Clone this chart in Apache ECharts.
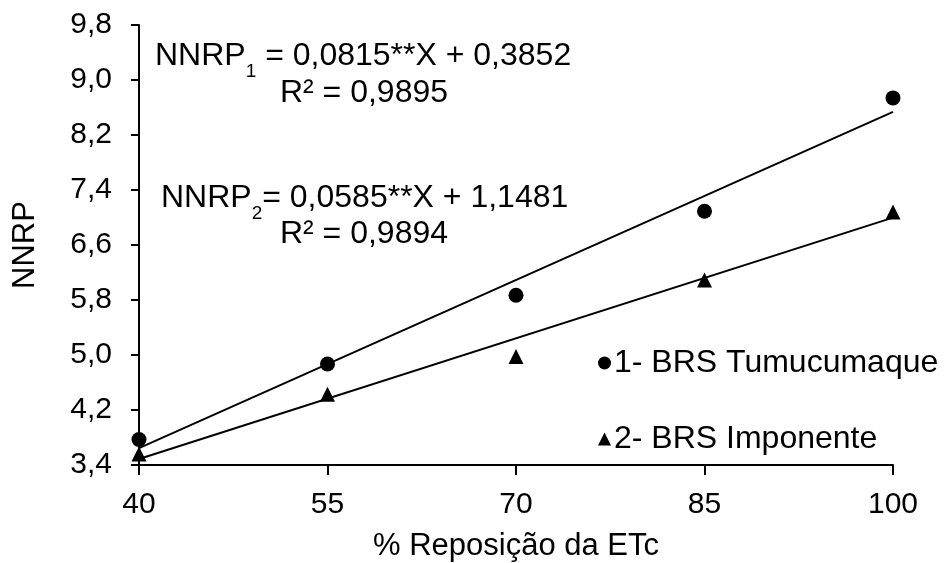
<!DOCTYPE html>
<html>
<head>
<meta charset="utf-8">
<script src="https://cdn.jsdelivr.net/npm/echarts@6/dist/echarts.min.js"></script>
<style>
  html, body { margin: 0; padding: 0; background: #fff; }
  #chart { width: 948px; height: 563px; }
</style>
</head>
<body>
<div id="chart"></div>
<script>
// % reposição da ETc
const xValues = [40, 55, 70, 85, 100]
// NNRP observado
const tumucumaque = [3.77, 4.87, 5.87, 7.09, 8.74]
const imponente = [3.56, 4.43, 4.98, 6.09, 7.08]
// coeficientes das regressões (inclinação, intercepto)
const slopes = [0.0815, 0.0585]
const intercepts = [0.3852, 1.1481]
const seriesNames = ['1- BRS Tumucumaque', '2- BRS Imponente']

const font = 'Liberation Sans, Arial, sans-serif'
const fmt = (v) => v.toFixed(1).replace('.', ',')

const pairs = (ys) => xValues.map((x, i) => [x, ys[i]])
const xMin = xValues[0]
const xMax = xValues[xValues.length - 1]
const trend = (k) => [
  [xMin, slopes[k] * xMin + intercepts[k]],
  [xMax, slopes[k] * xMax + intercepts[k]],
]

const chart = echarts.init(document.getElementById('chart'))

// equação com subscrito
const eqRich = {
  n: { fontSize: 32, fontFamily: font, color: '#000', lineHeight: 38 },
  s: { fontSize: 19, fontFamily: font, color: '#000', lineHeight: 38, verticalAlign: 'bottom', padding: [0, 0, -6, 0] },
}

const option = {
  animation: false,
  backgroundColor: '#fff',
  grid: {
    left: 139,
    right: 55,
    top: 25,
    bottom: 98,
    containLabel: false,
    outerBoundsMode: 'none',
  },
  legend: {
    orient: 'vertical',
    left: 593,
    top: 342,
    itemWidth: 13,
    itemHeight: 13,
    itemGap: 44,
    textStyle: { fontSize: 32, fontFamily: font, color: '#000', padding: [0, 0, 0, -2] },
    data: [
      { name: seriesNames[0], icon: 'circle' },
      { name: seriesNames[1], icon: 'triangle' },
    ],
  },
  xAxis: {
    type: 'value',
    min: 40,
    max: 100,
    interval: 15,
    name: '% Reposição da ETc',
    nameLocation: 'middle',
    nameGap: 66,
    nameTextStyle: { fontSize: 31, fontFamily: font, color: '#000' },
    axisLine: { lineStyle: { color: '#000', width: 2 } },
    axisTick: { show: true, length: 10, lineStyle: { color: '#000', width: 2 } },
    axisLabel: { fontSize: 30, fontFamily: font, color: '#000', margin: 25 },
    splitLine: { show: false },
  },
  yAxis: {
    type: 'value',
    min: 3.4,
    max: 9.8,
    interval: 0.8,
    name: 'NNRP',
    nameLocation: 'middle',
    nameGap: 98,
    nameTextStyle: { fontSize: 31, fontFamily: font, color: '#000' },
    axisLine: { show: true, lineStyle: { color: '#000', width: 2 } },
    axisTick: { show: true, length: 8, lineStyle: { color: '#000', width: 2 } },
    axisLabel: { fontSize: 30, fontFamily: font, color: '#000', margin: 27, formatter: fmt },
    splitLine: { show: false },
  },
  series: [
    {
      type: 'line',
      data: trend(0),
      symbol: 'none',
      lineStyle: { color: '#000', width: 2 },
      silent: true,
      z: 1,
    },
    {
      type: 'line',
      data: trend(1),
      symbol: 'none',
      lineStyle: { color: '#000', width: 2 },
      silent: true,
      z: 1,
    },
    {
      name: seriesNames[0],
      type: 'scatter',
      data: pairs(tumucumaque),
      symbol: 'circle',
      symbolSize: 15,
      itemStyle: { color: '#000', opacity: 1 },
      z: 3,
    },
    {
      name: seriesNames[1],
      type: 'scatter',
      data: pairs(imponente),
      symbol: 'triangle',
      symbolSize: 15,
      itemStyle: { color: '#000', opacity: 1 },
      z: 3,
    },
  ],
  graphic: [
    {
      type: 'text',
      left: 155,
      top: 40,
      style: { text: '{n|NNRP}{s|1}{n| = 0,0815**X + 0,3852}', rich: eqRich },
    },
    {
      type: 'text',
      x: 364,
      y: 93,
      style: { text: 'R² = 0,9895', fontSize: 32, fontFamily: font, fill: '#000', align: 'center', verticalAlign: 'middle' },
    },
    {
      type: 'text',
      left: 161,
      top: 182,
      style: { text: '{n|NNRP}{s|2}{n|= 0,0585**X + 1,1481}', rich: eqRich },
    },
    {
      type: 'text',
      x: 364,
      y: 234,
      style: { text: 'R² = 0,9894', fontSize: 32, fontFamily: font, fill: '#000', align: 'center', verticalAlign: 'middle' },
    },
  ],
}

chart.setOption(option)
</script>
</body>
</html>
